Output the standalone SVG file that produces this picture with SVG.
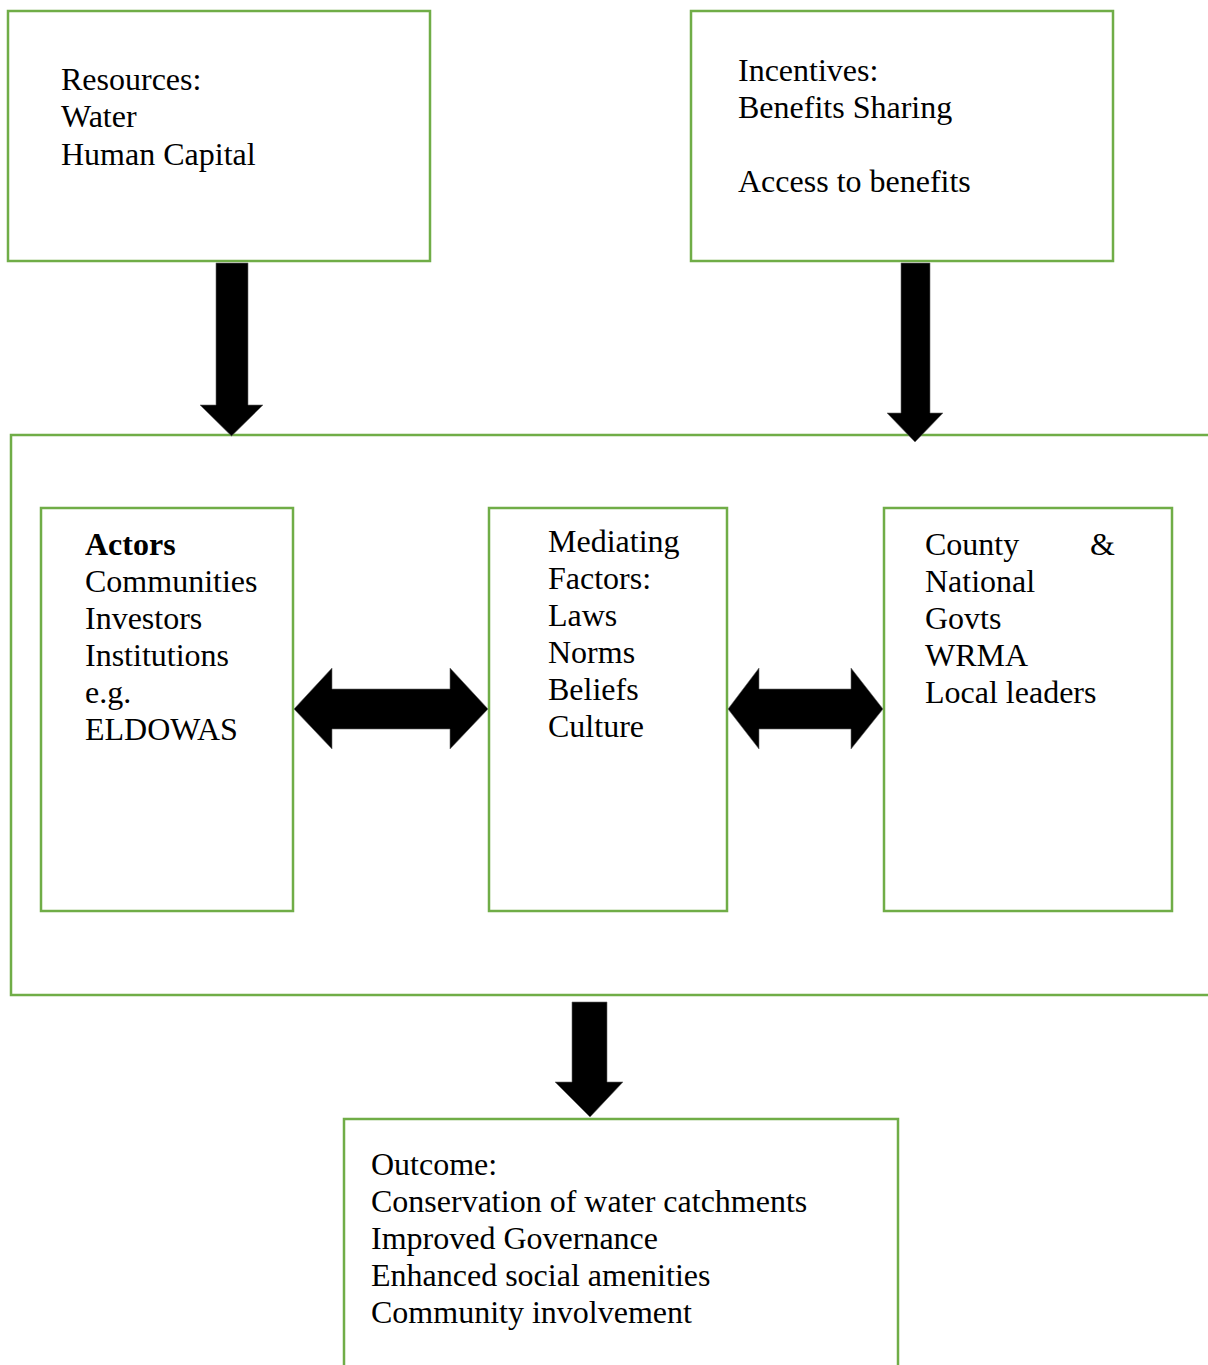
<svg xmlns="http://www.w3.org/2000/svg" width="1208" height="1365" viewBox="0 0 1208 1365">
<style>
.box{fill:#ffffff;stroke:#70AD47;stroke-width:2.5}
.t{font-family:"Liberation Serif","Times New Roman",serif;font-size:32px;fill:#000}
.b{font-weight:bold}
.arr{fill:#000;stroke:#666;stroke-width:0.6}
</style>
<rect width="1208" height="1365" fill="#ffffff"/>
<g id="resources">
<rect class="box" x="8" y="11" width="422" height="250"/>
<text class="t" x="61" y="90">Resources:</text>
<text class="t" x="61" y="127">Water</text>
<text class="t" x="61" y="165">Human Capital</text>
</g>
<g id="incentives">
<rect class="box" x="691" y="11" width="422" height="250"/>
<text class="t" x="738" y="81">Incentives:</text>
<text class="t" x="738" y="118">Benefits Sharing</text>
<text class="t" x="738" y="192">Access to benefits</text>
</g>
<g id="container">
<rect class="box" x="11" y="435" width="1215" height="560"/>
</g>
<g id="actors">
<rect class="box" x="41" y="508" width="252" height="403"/>
<text class="t b" x="85" y="555">Actors</text>
<text class="t" x="85" y="592">Communities</text>
<text class="t" x="85" y="629">Investors</text>
<text class="t" x="85" y="666">Institutions</text>
<text class="t" x="85" y="703">e.g.</text>
<text class="t" x="85" y="740">ELDOWAS</text>
</g>
<g id="mediating">
<rect class="box" x="489" y="508" width="238" height="403"/>
<text class="t" x="548" y="552">Mediating</text>
<text class="t" x="548" y="589">Factors:</text>
<text class="t" x="548" y="626">Laws</text>
<text class="t" x="548" y="663">Norms</text>
<text class="t" x="548" y="700">Beliefs</text>
<text class="t" x="548" y="737">Culture</text>
</g>
<g id="government">
<rect class="box" x="884" y="508" width="288" height="403"/>
<text class="t" x="925" y="555">County</text>
<text class="t" x="1090" y="555">&amp;</text>
<text class="t" x="925" y="592">National</text>
<text class="t" x="925" y="629">Govts</text>
<text class="t" x="925" y="666">WRMA</text>
<text class="t" x="925" y="703">Local leaders</text>
</g>
<g id="outcome">
<rect class="box" x="344" y="1119" width="554" height="270"/>
<text class="t" x="371" y="1175">Outcome:</text>
<text class="t" x="371" y="1212">Conservation of water catchments</text>
<text class="t" x="371" y="1249">Improved Governance</text>
<text class="t" x="371" y="1286">Enhanced social amenities</text>
<text class="t" x="371" y="1323">Community involvement</text>
</g>
<g id="connectors">
<polygon class="arr" points="216,263 248,263 248,405 263,405 231.5,436 200,405 216,405"/>
<polygon class="arr" points="901,263 930,263 930,413 943,413 915,442 887,413 901,413"/>
<polygon class="arr" points="294,709 332,668 332,689 450,689 450,668 488,709 450,749 450,729 332,729 332,749"/>
<polygon class="arr" points="728,709 759,668 759,689 851,689 851,668 883,709 851,749 851,729 759,729 759,749"/>
<polygon class="arr" points="572,1002 607,1002 607,1082 623,1082 590,1117 555,1082 572,1082"/>
</g>
</svg>
